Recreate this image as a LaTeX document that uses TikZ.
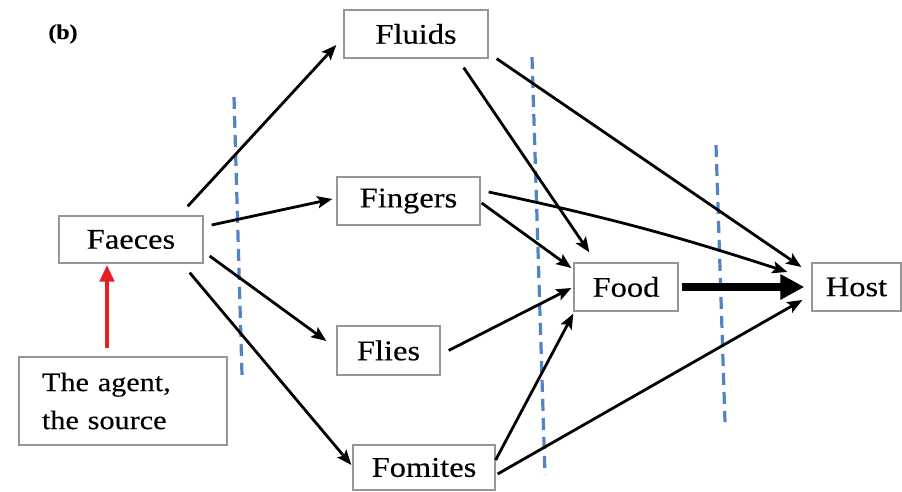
\documentclass[tikz,border=0pt]{standalone}
\usepackage{fontspec}
\setmainfont{Liberation Serif}[FakeStretch=1.14,FakeBold=0.3]
\usetikzlibrary{arrows.meta,calc}
\definecolor{dashblue}{RGB}{80,132,196}
\definecolor{agentred}{RGB}{228,32,36}
\definecolor{boxgray}{RGB}{150,150,150}
\begin{document}
\begin{tikzpicture}[x=1pt,y=1pt,
  box/.style={draw=boxgray, line width=1.3pt, inner sep=0pt, fill=white,
    font=\fontsize{28.5}{32}\selectfont},
  conn/.style={-{Stealth[length=15pt,width=12pt,inset=3pt]}, line width=2.8pt},
  sep/.style={draw=dashblue, line width=3.2pt, dash pattern=on 12pt off 7pt}]
\useasboundingbox (0,0) rectangle (902,492);
% separators
\draw[sep] (234,395) -- (242,117);
\draw[sep] (532,435) -- (545,17);
\draw[sep] (716,347) -- (725,70);
% nodes
\node (lbl) at (63,458) {\fontsize{21}{22}\selectfont\bfseries (b)};
\node[box, minimum width=144pt, minimum height=48pt] (fluids) at (416,458) {Fluids};
\node[box, minimum width=143pt, minimum height=48pt] (fingers) at (408.5,291) {Fingers};
\node[box, minimum width=144pt, minimum height=47pt] (faeces) at (131,252.5) {Faeces};
\node[box, minimum width=103pt, minimum height=49pt] (flies) at (388.5,141.5) {Flies};
\node[box, minimum width=142pt, minimum height=45pt] (fomites) at (424,24.5) {Fomites};
\node[box, minimum width=104pt, minimum height=48pt] (food) at (626,205) {Food};
\node[box, minimum width=89pt, minimum height=48pt] (host) at (856.5,205) {Host};
\node[box, minimum height=88pt, text width=162pt, inner xsep=23pt, align=left,
  font=\fontsize{26.5}{38}\selectfont] (agent) at (123,91) {The agent,\\the source};
% connectors
\draw[conn] ([xshift=-16pt,yshift=9pt]faeces.north east) -- ([xshift=-7pt,yshift=-11pt]fluids.west);
\draw[conn] ([xshift=8pt,yshift=14.5pt]faeces.east) -- ([xshift=-4pt,yshift=2pt]fingers.west);
\draw[conn] ([xshift=6pt,yshift=-16.5pt]faeces.east) -- ([xshift=-10pt,yshift=9.5pt]flies.west);
\draw[conn] ([xshift=-14pt,yshift=-9pt]faeces.south east) -- ([xshift=-1pt,yshift=2.5pt]fomites.west);
\draw[conn] ([xshift=-25pt,yshift=-9pt]fluids.south east) -- ([xshift=16pt,yshift=10pt]food.north west);
\draw[conn] ([xshift=8pt,yshift=0pt]fluids.south east) -- ([xshift=-10pt,yshift=20pt]host.west);
\draw[conn] ([xshift=1pt,yshift=-2pt]fingers.east) -- ([xshift=-2pt,yshift=19pt]food.west);
\draw[conn] ([xshift=8pt,yshift=9pt]fingers.east) to[bend left=3] ([xshift=-24pt,yshift=15pt]host.west);
\draw[conn] ([xshift=8pt,yshift=0pt]flies.east) -- ([xshift=-2pt,yshift=-1pt]food.west);
\draw[conn] ([xshift=0pt,yshift=7.5pt]fomites.east) -- ([xshift=0pt,yshift=-2pt]food.south west);
\draw[conn] ([xshift=2pt,yshift=-6.5pt]fomites.east) -- ([xshift=-9pt,yshift=-13pt]host.west);
\draw[-{Triangle[length=24pt,width=24pt]}, line width=8pt] ([xshift=3pt]food.east) -- ([xshift=-7pt]host.west);
\draw[-{Triangle[length=17pt,width=14pt]}, line width=4.5pt, draw=agentred, fill=agentred]
  ([xshift=-16pt,yshift=8pt]agent.north) -- ([xshift=-24pt,yshift=-1pt]faeces.south);
\end{tikzpicture}
\end{document}
